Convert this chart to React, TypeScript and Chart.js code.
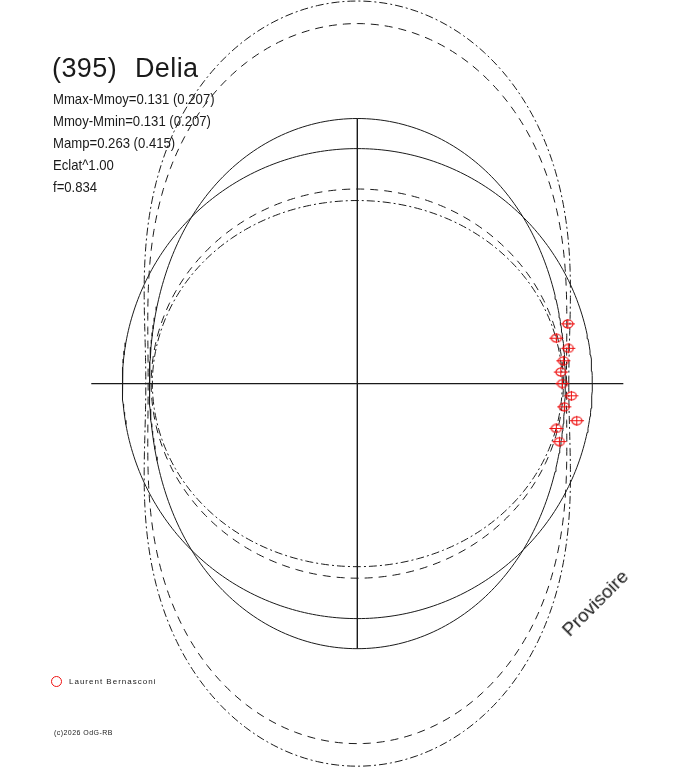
import React, { useEffect, useRef } from "react";
import { Chart, registerables } from "chart.js";

Chart.register(...registerables);

// ---- texts ----
const titleText = "(395) Delia";
const infoLines = [
  "Mmax-Mmoy=0.131 (0.207)",
  "Mmoy-Mmin=0.131 (0.207)",
  "Mamp=0.263 (0.415)",
  "Eclat^1.00",
  "f=0.834",
];
const observerName = "Laurent Bernasconi";
const copyrightText = "(c)2026 OdG-RB";
const watermarkText = "Provisoire";

// ---- model curves (radius relative to the mean-brightness circle = 1) ----
const curveLabels = [
  "Moyenne",
  "Modèle",
  "Enveloppe ext. (trait-point)",
  "Enveloppe ext. (tirets)",
  "Enveloppe int. (tirets)",
  "Enveloppe int. (trait-point)",
];
const curveRx = [1.0, 0.885, 0.9, 0.89, 0.877, 0.872];
const curveRy = [1.0, 1.128, 1.628, 1.532, 0.828, 0.779];
const curveStyles = ["solid", "solid", "dashdot", "dashed", "dashed", "dashdot"];

// ---- axes (half lengths) ----
const axisHalfX = 1.132;
const axisHalfY = 1.128;

// ---- observations (Laurent Bernasconi) ----
const obsX = [0.896, 0.847, 0.898, 0.877, 0.866, 0.873, 0.911, 0.881, 0.934, 0.847, 0.860];
const obsY = [0.254, 0.193, 0.150, 0.097, 0.049, 0.000, -0.052, -0.099, -0.158, -0.191, -0.247];
const obsErrX = [0.03, 0.03, 0.03, 0.03, 0.03, 0.03, 0.03, 0.03, 0.031, 0.03, 0.03];
const obsErrY = [0.021, 0.021, 0.021, 0.021, 0.021, 0.021, 0.021, 0.021, 0.021, 0.021, 0.021];

// ---- visible window ----
const xRange = [-1.5204, 1.4072];
const yRange = [-1.6357, 1.6323];

const RED = "#ee1111";
const INK = "#1a1a1a";

function curvePoints(rx: number, ry: number) {
  const pts: { x: number; y: number }[] = [];
  for (let d = 0; d <= 360; d += 1) {
    const t = (d * Math.PI) / 180;
    const c2 = Math.cos(t) * Math.cos(t);
    const r = Math.exp(c2 * Math.log(rx) + (1 - c2) * Math.log(ry));
    pts.push({ x: r * Math.cos(t), y: r * Math.sin(t) });
  }
  return pts;
}

function dashFor(style: string): number[] {
  if (style === "dashed") return [8, 6];
  if (style === "dashdot") return [8, 3, 2, 3];
  return [];
}

const errorBarPlugin = {
  id: "errorBars",
  afterDatasetsDraw(chart: any) {
    const ctx = chart.ctx;
    const xs = chart.scales.x;
    const ys = chart.scales.y;
    ctx.save();
    ctx.strokeStyle = RED;
    ctx.lineWidth = 1;
    obsX.forEach((x, i) => {
      const y = obsY[i];
      const px = xs.getPixelForValue(x);
      const py = ys.getPixelForValue(y);
      ctx.beginPath();
      ctx.moveTo(xs.getPixelForValue(x - obsErrX[i]), py);
      ctx.lineTo(xs.getPixelForValue(x + obsErrX[i]), py);
      ctx.moveTo(px, ys.getPixelForValue(y - obsErrY[i]));
      ctx.lineTo(px, ys.getPixelForValue(y + obsErrY[i]));
      ctx.stroke();
    });
    ctx.restore();
  },
};

export default function App() {
  const canvasRef = useRef<HTMLCanvasElement | null>(null);

  useEffect(() => {
    const canvas = canvasRef.current;
    if (!canvas) return;

    const marker = document.createElement("canvas");
    marker.width = 12;
    marker.height = 10;
    const mctx = marker.getContext("2d");
    if (mctx) {
      mctx.strokeStyle = RED;
      mctx.lineWidth = 1.2;
      mctx.beginPath();
      mctx.ellipse(6, 5, 5, 4, 0, 0, Math.PI * 2);
      mctx.stroke();
    }

    const datasets: any[] = [
      {
        label: observerName,
        data: obsX.map((x, i) => ({ x, y: obsY[i] })),
        showLine: false,
        pointStyle: marker,
        pointRadius: 5,
        borderColor: RED,
        backgroundColor: "rgba(0,0,0,0)",
      },
      {
        label: "axe X",
        data: [
          { x: -axisHalfX, y: 0 },
          { x: axisHalfX, y: 0 },
        ],
        showLine: true,
        pointRadius: 0,
        borderColor: INK,
        borderWidth: 1.4,
      },
      {
        label: "axe Y",
        data: [
          { x: 0, y: -axisHalfY },
          { x: 0, y: axisHalfY },
        ],
        showLine: true,
        pointRadius: 0,
        borderColor: INK,
        borderWidth: 1.4,
      },
    ];

    curveLabels.forEach((label, i) => {
      datasets.push({
        label,
        data: curvePoints(curveRx[i], curveRy[i]),
        showLine: true,
        pointRadius: 0,
        borderColor: INK,
        borderWidth: 1,
        borderDash: dashFor(curveStyles[i]),
        tension: 0,
        fill: false,
      });
    });

    const chart = new Chart(canvas, {
      type: "scatter",
      data: { datasets },
      options: {
        animation: false,
        responsive: false,
        events: [],
        layout: { padding: 0, autoPadding: false },
        plugins: {
          legend: { display: false },
          tooltip: { enabled: false },
          title: { display: false },
        },
        scales: {
          x: { type: "linear", min: xRange[0], max: xRange[1], display: false },
          y: { type: "linear", min: yRange[0], max: yRange[1], display: false },
        },
      },
      plugins: [errorBarPlugin],
    } as any);

    return () => {
      chart.destroy();
    };
  }, []);

  const font = '"Liberation Sans", Arial, Helvetica, sans-serif';
  const infoBaselines = [103.3, 126.0, 147.8, 169.5, 191.2];

  return (
    <div
      style={{
        position: "absolute",
        left: 0,
        top: 0,
        width: 688,
        height: 768,
        background: "#fff",
        overflow: "hidden",
        fontFamily: font,
        color: INK,
      }}
    >
      <canvas ref={canvasRef} width={688} height={768} style={{ position: "absolute", left: 0, top: 0 }} />
      <div
        style={{
          position: "absolute",
          left: 52,
          top: 55.4,
          fontSize: 27,
          lineHeight: "27px",
          whiteSpace: "nowrap",
          wordSpacing: 10,
          letterSpacing: 0.4,
        }}
      >
        {titleText}
      </div>
      {infoLines.map((t, i) => (
        <div
          key={i}
          style={{
            position: "absolute",
            left: 53,
            top: infoBaselines[i] - 12.7,
            fontSize: 15,
            lineHeight: "15px",
            whiteSpace: "nowrap",
            transform: "scaleX(0.875)",
            transformOrigin: "left top",
          }}
        >
          {t}
        </div>
      ))}
      <div
        style={{
          position: "absolute",
          left: 51.2,
          top: 675.8,
          width: 11,
          height: 11,
          boxSizing: "border-box",
          border: `1.3px solid ${RED}`,
          borderRadius: "50%",
        }}
      />
      <div
        style={{
          position: "absolute",
          left: 69,
          top: 685.3 - 7.2,
          fontSize: 8,
          lineHeight: "8px",
          letterSpacing: 1,
          whiteSpace: "nowrap",
        }}
      >
        {observerName}
      </div>
      <div
        style={{
          position: "absolute",
          left: 54,
          top: 735 - 6.3,
          fontSize: 7,
          lineHeight: "7px",
          letterSpacing: 0.45,
          whiteSpace: "nowrap",
        }}
      >
        {copyrightText}
      </div>
      <div
        style={{
          position: "absolute",
          left: 594.5,
          top: 602.7,
          fontSize: 19,
          lineHeight: "19px",
          whiteSpace: "nowrap",
          transform: "translate(-50%, -50%) rotate(-45deg)",
        }}
      >
        {watermarkText}
      </div>
    </div>
  );
}
